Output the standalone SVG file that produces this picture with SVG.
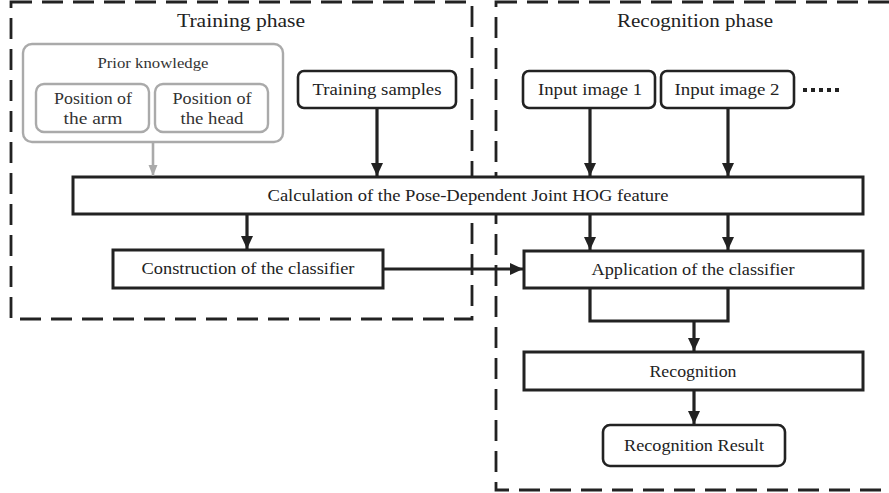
<svg xmlns="http://www.w3.org/2000/svg" width="889" height="493" viewBox="0 0 889 493">
<style>
  text { font-family: "Liberation Serif", "Times New Roman", serif; fill: #222; text-anchor: middle; }
  .phase { font-size: 19.5px; }
  .lbl { font-size: 17px; }
  .sm { font-size: 15px; }
  .dash { fill: none; stroke: #222; stroke-width: 2.8; stroke-dasharray: 21 10; }
  .box { fill: #fff; stroke: #222; stroke-width: 3; }
  .rbox { fill: #fff; stroke: #222; stroke-width: 2.6; }
  .gbox { fill: #fff; stroke: #aaa; stroke-width: 2.4; }
  .gtext { fill: #333; }
  .conn { fill: none; stroke: #222; stroke-width: 3.2; }
  .gconn { fill: none; stroke: #aaa; stroke-width: 2.6; }
</style>
<defs>
  <marker id="ah" markerUnits="userSpaceOnUse" markerWidth="14" markerHeight="14" viewBox="0 0 14 14" refX="13" refY="7" orient="auto">
    <path d="M0,1 L13,7 L0,13 Z" fill="#222"/>
  </marker>
  <marker id="gah" markerUnits="userSpaceOnUse" markerWidth="12" markerHeight="12" viewBox="0 0 12 12" refX="11" refY="6" orient="auto">
    <path d="M0,1.5 L11,6 L0,10.5 Z" fill="#aaa"/>
  </marker>
</defs>

<g id="training-phase">
  <rect class="dash" x="11" y="2" width="461" height="317"/>
  <text class="phase" x="241" y="27" textLength="128" lengthAdjust="spacingAndGlyphs">Training phase</text>
</g>
<g id="recognition-phase">
  <rect class="dash" x="496" y="2" width="398" height="488"/>
  <text class="phase" x="695" y="27" textLength="156" lengthAdjust="spacingAndGlyphs">Recognition phase</text>
</g>

<g id="prior-knowledge">
  <rect class="gbox" x="23" y="44" width="260" height="98" rx="9"/>
  <text class="sm gtext" x="153" y="68" textLength="111" lengthAdjust="spacingAndGlyphs">Prior knowledge</text>
</g>
<g id="pos-arm">
  <rect class="gbox" x="36" y="84" width="113" height="48" rx="8"/>
  <text class="lbl gtext" x="93" y="104" textLength="78" lengthAdjust="spacingAndGlyphs">Position of</text>
  <text class="lbl gtext" x="93" y="124" textLength="59" lengthAdjust="spacingAndGlyphs">the arm</text>
</g>
<g id="pos-head">
  <rect class="gbox" x="155" y="84" width="113" height="48" rx="8"/>
  <text class="lbl gtext" x="212" y="104" textLength="79" lengthAdjust="spacingAndGlyphs">Position of</text>
  <text class="lbl gtext" x="212" y="124" textLength="63" lengthAdjust="spacingAndGlyphs">the head</text>
</g>

<g id="training-samples">
  <rect class="rbox" x="298" y="71" width="158" height="37" rx="6"/>
  <text class="lbl" x="377" y="95" textLength="129" lengthAdjust="spacingAndGlyphs">Training samples</text>
</g>
<g id="input-image-1">
  <rect class="rbox" x="523" y="71" width="132" height="37" rx="6"/>
  <text class="lbl" x="590" y="95" textLength="104" lengthAdjust="spacingAndGlyphs">Input image 1</text>
</g>
<g id="input-image-2">
  <rect class="rbox" x="661" y="71" width="133" height="37" rx="6"/>
  <text class="lbl" x="727" y="95" textLength="105" lengthAdjust="spacingAndGlyphs">Input image 2</text>
</g>
<g id="ellipsis" fill="#222">
  <rect x="803" y="88" width="4" height="4"/>
  <rect x="811" y="88" width="4" height="4"/>
  <rect x="819" y="88" width="4" height="4"/>
  <rect x="827" y="88" width="4" height="4"/>
  <rect x="835" y="88" width="4" height="4"/>
</g>

<g id="calc-hog">
  <rect class="box" x="73" y="177" width="790" height="37"/>
  <text class="lbl" x="468" y="201" textLength="401" lengthAdjust="spacingAndGlyphs">Calculation of the Pose-Dependent Joint HOG feature</text>
</g>
<g id="construction">
  <rect class="box" x="113" y="250" width="270" height="38"/>
  <text class="lbl" x="248" y="274" textLength="213" lengthAdjust="spacingAndGlyphs">Construction of the classifier</text>
</g>
<g id="application">
  <rect class="box" x="524" y="251" width="339" height="37"/>
  <text class="lbl" x="693" y="275" textLength="203" lengthAdjust="spacingAndGlyphs">Application of the classifier</text>
</g>
<g id="recognition">
  <rect class="box" x="524" y="352" width="339" height="38"/>
  <text class="lbl" x="693" y="377" textLength="87" lengthAdjust="spacingAndGlyphs">Recognition</text>
</g>
<g id="recognition-result">
  <rect class="rbox" x="603" y="425" width="182" height="41" rx="7"/>
  <text class="lbl" x="694" y="451" textLength="140" lengthAdjust="spacingAndGlyphs">Recognition Result</text>
</g>

<g id="connectors">
  <path class="gconn" d="M153,142 V176" marker-end="url(#gah)"/>
  <path class="conn" d="M377,108 V176" marker-end="url(#ah)"/>
  <path class="conn" d="M590,108 V176" marker-end="url(#ah)"/>
  <path class="conn" d="M728,108 V176" marker-end="url(#ah)"/>
  <path class="conn" d="M247,214 V249" marker-end="url(#ah)"/>
  <path class="conn" d="M590,214 V250" marker-end="url(#ah)"/>
  <path class="conn" d="M728,214 V250" marker-end="url(#ah)"/>
  <path class="conn" d="M383,269 H523" marker-end="url(#ah)"/>
  <path class="conn" d="M590,288 V321 H728 V288"/>
  <path class="conn" d="M694,321 V351" marker-end="url(#ah)"/>
  <path class="conn" d="M694,390 V424" marker-end="url(#ah)"/>
</g>
</svg>
